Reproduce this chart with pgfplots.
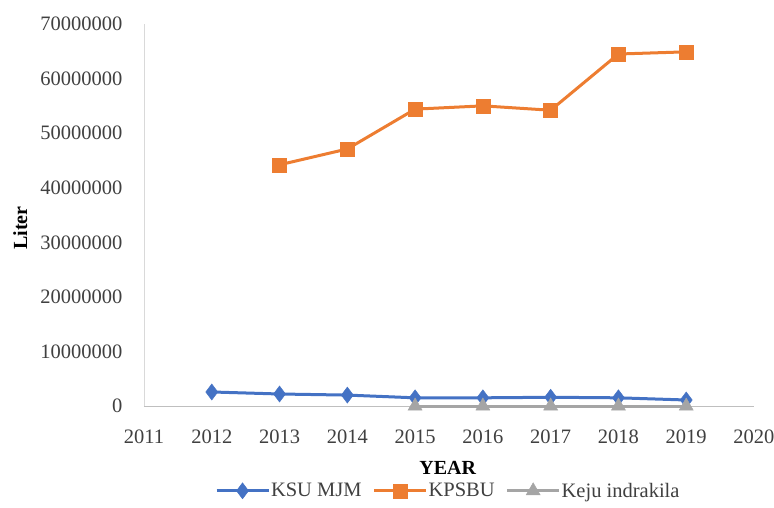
\documentclass[border=0pt]{standalone}
\usepackage{pgfplots}
\pgfplotsset{compat=1.18}
\usepackage{fontspec}
\setmainfont{Liberation Serif}
\definecolor{cblue}{HTML}{4472C4}
\definecolor{corange}{HTML}{ED7D31}
\definecolor{cgray}{HTML}{A5A5A5}
\definecolor{ctext}{HTML}{404040}
\begin{document}
\begin{tikzpicture}
\useasboundingbox (-144pt,-101pt) rectangle (630pt,406pt);
\begin{axis}[
  scale only axis,
  width=610pt, height=382pt,
  xmin=2011, xmax=2020, ymin=0, ymax=70000000,
  xtick={2011,...,2020},
  ytick={0,10000000,...,70000000},
  axis x line=bottom, axis y line=left,
  x axis line style={draw=black!25, line width=0.8pt, -},
  y axis line style={draw=black!15, line width=0.8pt, -},
  major tick length=0pt,
  scaled y ticks=false,
  /pgf/number format/assume math mode=true,
  x tick label style={/pgf/number format/1000 sep={}, font=\fontsize{20.5}{24}\selectfont, text=ctext, yshift=-20pt},
  y tick label style={/pgf/number format/fixed, /pgf/number format/1000 sep={}, font=\fontsize{20.5}{24}\selectfont, text=ctext, xshift=-18pt},
  xlabel={YEAR},
  ylabel={Liter},
  xlabel style={font=\fontsize{20}{24}\selectfont\bfseries, at={(axis description cs:0.498,-0.162)}, anchor=center},
  ylabel style={font=\fontsize{20}{24}\selectfont\bfseries, at={(axis description cs:-0.203,0.466)}, anchor=center, rotate=0},
  legend columns=3,
  legend style={draw=none, fill=none, at={(axis description cs:0.498,-0.222)}, anchor=center,
    font=\fontsize{20.5}{24}\selectfont, text=ctext, nodes={inner xsep=1pt},
    /tikz/every even column/.append style={column sep=10pt}},
  legend image code/.code={%
    \draw[mark repeat=2,mark phase=2] plot coordinates {(0pt,0pt)(26pt,0pt)(52pt,0pt)};},
  clip=false,
]
\addplot[color=cblue, line width=3pt, mark=diamond*, mark size=8pt, mark options={fill=cblue, line width=0.5pt}]
coordinates {(2012,2570000)(2013,2200000)(2014,2000000)(2015,1500000)(2016,1500000)(2017,1600000)(2018,1500000)(2019,1100000)};
\addlegendentry{KSU MJM}
\addplot[color=corange, line width=3pt, mark=square*, mark size=7pt, mark options={fill=corange, line width=0.5pt}]
coordinates {(2013,44200000)(2014,47100000)(2015,54400000)(2016,55000000)(2017,54200000)(2018,64500000)(2019,64900000)};
\addlegendentry{KPSBU}
\addplot[color=cgray, line width=3pt, mark=triangle*, mark size=8pt, mark options={fill=cgray, line width=0.5pt}]
coordinates {(2015,0)(2016,0)(2017,0)(2018,0)(2019,0)};
\addlegendentry{Keju indrakila}
\end{axis}
\end{tikzpicture}
\end{document}
